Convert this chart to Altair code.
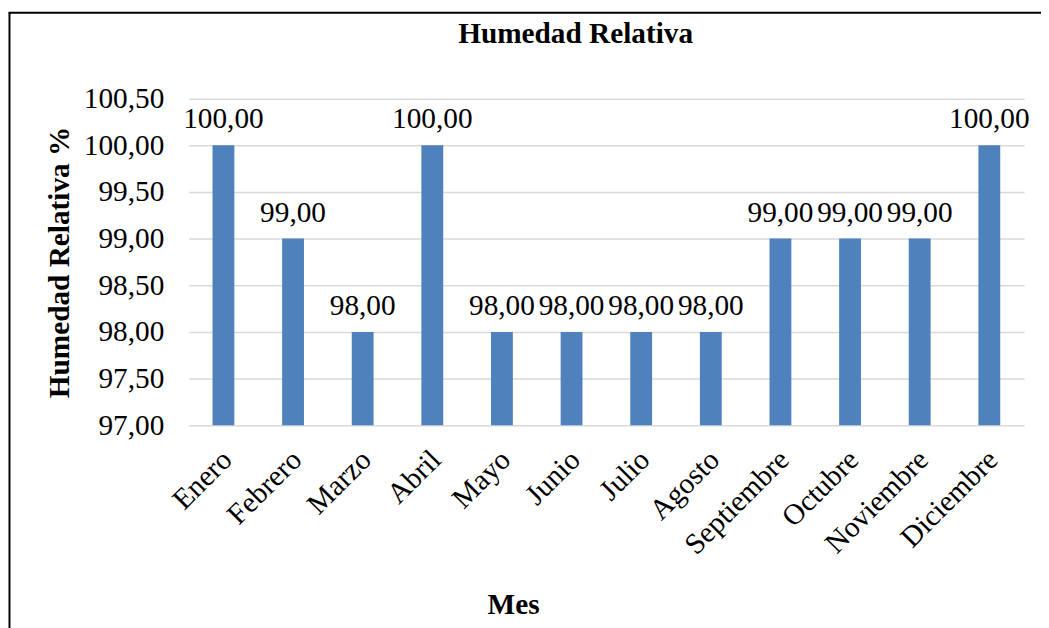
import altair as alt
import pandas as pd

meses = ["Enero", "Febrero", "Marzo", "Abril", "Mayo", "Junio", "Julio",
         "Agosto", "Septiembre", "Octubre", "Noviembre", "Diciembre"]
humedad = [100.0, 99.0, 98.0, 100.0, 98.0, 98.0, 98.0, 98.0, 99.0, 99.0, 99.0, 100.0]
y_ticks = [97.0, 97.5, 98.0, 98.5, 99.0, 99.5, 100.0, 100.5]
titulo = "Humedad Relativa"
titulo_y = "Humedad Relativa %"
titulo_x = "Mes"
encabezado = "Gráfico 5."

df = pd.DataFrame({"Mes": meses, "Humedad": humedad})
df["etiqueta"] = [f"{v:.2f}".replace(".", ",") for v in humedad]
df["base"] = y_ticks[0]

FONT = "Liberation Serif"
FS = 29.5
W, H = 842, 329
BLUE = "#4F81BD"

x_enc = alt.X(
    "Mes:N", sort=meses,
    scale=alt.Scale(paddingInner=0, paddingOuter=0),
    axis=alt.Axis(
        title=titulo_x, labelAngle=-45, labelFont=FONT, labelFontSize=FS,
        labelColor="black", labelPadding=20, labelOffset=-6, domain=False, ticks=False,
        titleFont=FONT, titleFontSize=FS, titleFontWeight="bold", titleColor="black",
        titleX=327, titleY=190, titleAlign="center", titleBaseline="alphabetic",
    ),
)
y_enc = alt.Y(
    "Humedad:Q",
    scale=alt.Scale(domain=[y_ticks[0], y_ticks[-1]], zero=False, nice=False),
    axis=alt.Axis(
        values=y_ticks, labelExpr="replace(format(datum.value, '.2f'), '.', ',')",
        labelFont=FONT, labelFontSize=FS, labelColor="black", labelPadding=25,
        domain=False, ticks=False, grid=True, gridColor="#D9D9D9", gridWidth=1.5,
        title=titulo_y, titleFont=FONT, titleFontSize=FS, titleFontWeight="bold",
        titleColor="black", titleX=-130, titleY=H / 2, titleAngle=-90,
        titleAlign="center", titleBaseline="middle",
    ),
)

bars = alt.Chart(df).mark_bar(size=22, color=BLUE).encode(
    x=x_enc, y=y_enc, y2="base:Q"
)
labels = alt.Chart(df).mark_text(
    dy=-17, baseline="alphabetic", align="center", font=FONT, fontSize=FS, color="black"
).encode(x=alt.X("Mes:N", sort=meses), y="Humedad:Q", text="etiqueta:N")

title_layer = alt.Chart(pd.DataFrame({"t": [titulo]})).mark_text(
    font=FONT, fontSize=FS, fontWeight="bold", align="center", baseline="alphabetic", color="black"
).encode(x=alt.value(390), y=alt.value(-56), text="t:N")

head_layer = alt.Chart(pd.DataFrame({"t": [encabezado]})).mark_text(
    font=FONT, fontSize=FS, fontWeight="bold", align="left", baseline="alphabetic", color="black"
).encode(x=alt.value(-185), y=alt.value(-93), text="t:N")

border_left = alt.Chart(pd.DataFrame({"a": [0]})).mark_rule(color="black", strokeWidth=2).encode(
    x=alt.value(-180.5), y=alt.value(-86.5), y2=alt.value(700)
)
border_top = alt.Chart(pd.DataFrame({"a": [0]})).mark_rule(color="black", strokeWidth=2).encode(
    x=alt.value(-181.5), x2=alt.value(1000), y=alt.value(-86.5)
)

chart = alt.layer(bars, labels, title_layer, head_layer, border_left, border_top).properties(
    width=W, height=H,
    autosize=alt.AutoSizeParams(type="none"),
    padding={"left": 182, "top": 89, "right": 17, "bottom": 202},
).configure_view(stroke=None)

chart.save("out.html", embed_options={"renderer": "svg", "actions": False})
